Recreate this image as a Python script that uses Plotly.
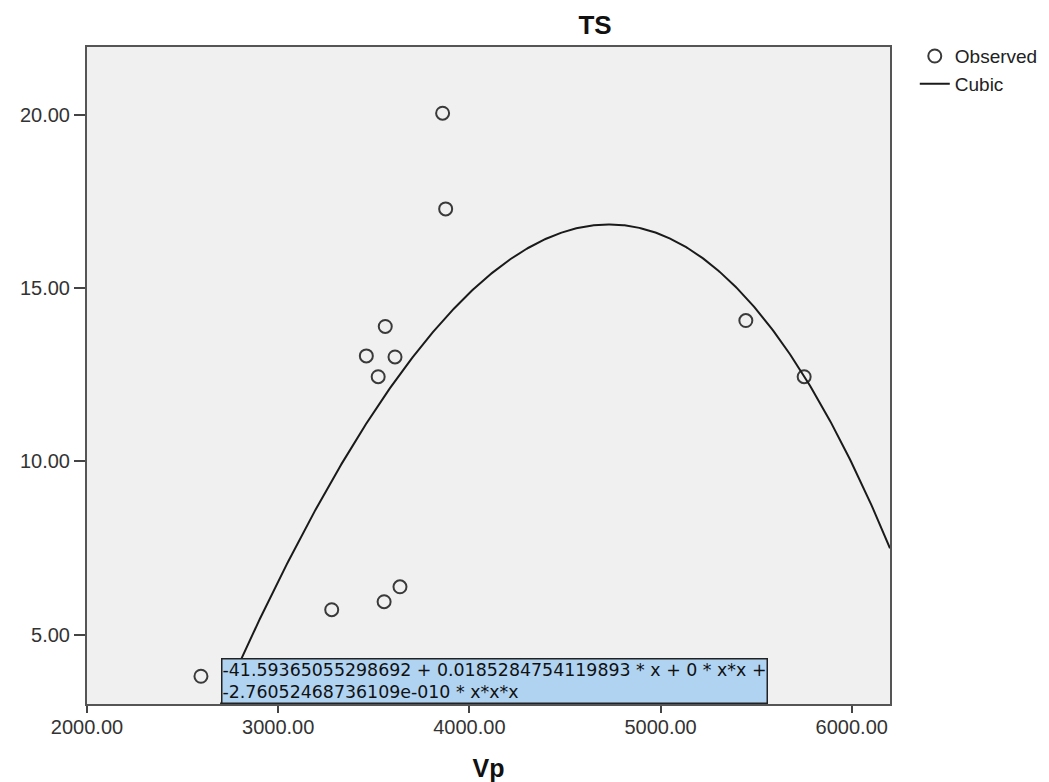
import numpy as np
import plotly.graph_objects as go

vp_observed = [2596, 3280, 3554, 3637, 3461, 3523, 3611, 3560, 3860, 3876, 5446, 5751]
ts_observed = [3.80, 5.72, 5.95, 6.38, 13.04, 12.44, 13.01, 13.89, 20.04, 17.28, 14.06, 12.44]

# Cubic model coefficients (printed on the chart)
b0 = -41.59365055298692
b1 = 0.0185284754119893
b2 = 0.0
b3 = -2.76052468736109e-010

x_range = [2000, 6200]
y_range = [3.0, 21.95]
x_ticks = [2000, 3000, 4000, 5000, 6000]
y_ticks = [5, 10, 15, 20]

equation_text = ("-41.59365055298692 + 0.0185284754119893 * x + 0 * x*x +<br>"
                 "-2.76052468736109e-010 * x*x*x")

xs = np.linspace(x_range[0], x_range[1], 600)
ys = b0 + b1 * xs + b2 * xs**2 + b3 * xs**3

# layout geometry (pixels)
W, H = 1049, 782
ML, MR, MT, MB = 72, 167, 39, 77
PW, PH = W - ML - MR, H - MT - MB


def px_to_x(px):
    return x_range[0] + (px - ML) / PW * (x_range[1] - x_range[0])


FONT = "Arial, 'Liberation Sans', sans-serif"

fig = go.Figure()
fig.add_trace(go.Scatter(
    x=vp_observed, y=ts_observed, mode="markers", name="Observed",
    marker=dict(symbol="circle-open", size=13, color="#3a3a3a",
                line=dict(width=2, color="#3a3a3a")),
))
fig.add_trace(go.Scatter(
    x=xs, y=ys, mode="lines", name="Cubic",
    line=dict(color="#1a1a1a", width=2),
))

# equation box
fig.add_annotation(
    x=px_to_x(207), y=y_range[0], xref="x", yref="y",
    xanchor="left", yanchor="bottom", text=equation_text, showarrow=False,
    align="left", font=dict(family="'DejaVu Sans', sans-serif", size=17.4, color="#111111"),
    bgcolor="#b0d3f1", bordercolor="#222222", borderwidth=1.5, borderpad=0,
)

fig.update_layout(
    width=W, height=H,
    margin=dict(l=ML, r=MR, t=MT, b=MB),
    paper_bgcolor="white", plot_bgcolor="#f0f0f0",
    font=dict(family=FONT, size=20, color="#333333"),
    title=dict(text="<b>TS</b>", x=587 / W, xanchor="center",
               y=1 - 17 / H, yanchor="middle", font=dict(size=26, color="#111111")),
    showlegend=True,
    legend=dict(x=(907 - ML) / PW, y=1.015, xanchor="left", yanchor="top",
                font=dict(size=19, color="#222222"), bgcolor="rgba(0,0,0,0)",
                tracegroupgap=0, itemwidth=30),
)
fig.update_xaxes(
    range=x_range, tickvals=x_ticks, tickformat=".2f",
    ticks="outside", ticklen=7, tickwidth=2, tickcolor="#444444",
    ticklabelstandoff=-3,
    showline=True, linecolor="#555555", linewidth=2, mirror=True,
    showgrid=False, zeroline=False,
    title=dict(text="<b>Vp</b>", font=dict(size=25, color="#111111"), standoff=22),
)
fig.update_yaxes(
    range=y_range, tickvals=y_ticks, tickformat=".2f",
    ticks="outside", ticklen=11, tickwidth=2, tickcolor="#444444",
    showline=True, linecolor="#555555", linewidth=2, mirror=True,
    showgrid=False, zeroline=False,
)

fig.write_html("out.html")
